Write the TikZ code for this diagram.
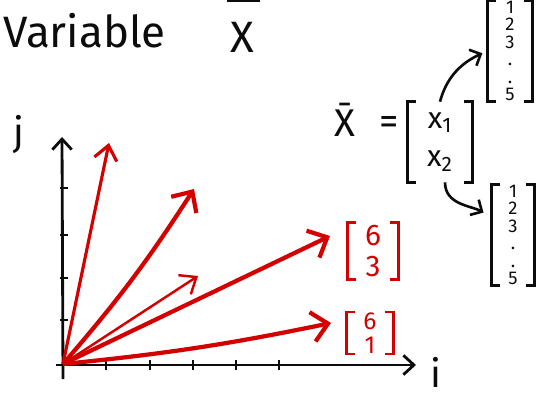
\documentclass[tikz,border=0pt]{standalone}
\usepackage{fontspec}
\setmainfont{Fira Sans}
\usepackage{tikz}
\usetikzlibrary{arrows.meta}
\definecolor{inkred}{RGB}{212,0,0}
\definecolor{inkblack}{RGB}{12,12,12}
\tikzset{
  axisline/.style={-{Straight Barb[length=6pt,width=11pt]},line width=1.6pt,color=inkblack},
  ticker/.style={line width=1.3pt,color=inkblack},
  vecthick/.style={-{Straight Barb[length=9pt,width=17pt]},line width=2.4pt,color=inkred},
  vecmid/.style={-{Straight Barb[length=8pt,width=13pt]},line width=1.8pt,color=inkred},
  vecthin/.style={-{Straight Barb[length=8pt,width=13pt]},line width=1.4pt,color=inkred},
  bendarr/.style={-{Straight Barb[length=5pt,width=10pt]},line width=1.5pt,color=inkblack},
  handtext/.style={inner sep=0pt,text=inkblack,font=\fontsize{25}{28}\selectfont},
  axislabel/.style={inner sep=0pt,text=inkblack,font=\fontsize{22}{24}\selectfont},
  vecbox/.style={inner sep=0pt,align=center},
  blackbrk/.style={line width=1.6pt,color=inkblack},
  redbrk/.style={line width=1.7pt,color=inkred}
}
%% square brackets drawn round a named node
\newcommand{\bracketsof}[2]{%
  \draw[#2] ([xshift=5pt]#1.north west) -- (#1.north west) -- (#1.south west) -- ([xshift=5pt]#1.south west);
  \draw[#2] ([xshift=-5pt]#1.north east) -- (#1.north east) -- (#1.south east) -- ([xshift=-5pt]#1.south east);}

\begin{document}
\begin{tikzpicture}[x=0.02cm,y=0.02cm]
  \useasboundingbox (0,0) rectangle (540,399);

  %% Title
  \node[handtext,anchor=base west] (title) at (3,351) {Variable};
  \node[handtext] (titleX) at (242,362) {X};
  \draw[blackbrk] (227,398.5) -- (260,398.5);

  %% Axes
  \coordinate (xs) at (56,34);
  \coordinate (xe) at (416,34);
  \coordinate (ys) at (63,20);
  \coordinate (ye) at (62,262);
  \coordinate (O) at (63,35);
  \draw[axisline] (xs) -- (xe);
  \draw[axisline] (ys) -- (ye);
  \foreach \tx in {106,150,193,236,279}
    \draw[ticker] (\tx,29) -- (\tx,39);
  \foreach \ty in {79,121,164,211}
    \draw[ticker] (60,\ty) -- (68,\ty);
  \node[axislabel,anchor=base] (ilab) at (436,12) {i};
  \node[axislabel] (jlab) at (19,264) {j};

  %% Vectors
  \coordinate (v1) at (109,256);
  \coordinate (v2) at (194,210);
  \coordinate (v3) at (198,123);
  \coordinate (v4) at (330,163);
  \coordinate (v5) at (331,76);
  \draw[vecmid] (O) -- (v1);
  \draw[vecthick] (O) to[bend right=4] (v2);
  \draw[vecthin] (O) -- (v3);
  \draw[vecthick] (O) -- (v4);
  \draw[vecthick] (O) to[bend right=3] (v5);

  %% Red labels
  \node[vecbox,text=inkred,font=\fontsize{17}{18}\selectfont,minimum width=1cm,minimum height=1.14cm]
    (lab63) at (373,148) {6\\3};
  \node[vecbox,text=inkred,font=\fontsize{14}{14}\selectfont,minimum width=0.92cm,minimum height=0.8cm]
    (lab61) at (370,66) {6\\1};
  \bracketsof{lab63}{redbrk}
  \bracketsof{lab61}{redbrk}

  %% Mean vector
  \node[axislabel,anchor=base] (xbar) at (345,262) {\=X};
  \node[axislabel] (eq) at (389,274) {=};
  \node[vecbox,text=inkblack,font=\fontsize{17}{22}\selectfont,minimum width=1.28cm,minimum height=1.6cm]
    (xm) at (440,257) {x\textsubscript{1}\\x\textsubscript{2}};
  \node[vecbox,text=inkblack,font=\fontsize{10.5}{10}\selectfont,minimum width=0.9cm,minimum height=1.85cm]
    (tv) at (510,348) {1\\2\\3\\.\\.\\5};
  \node[vecbox,text=inkblack,font=\fontsize{10.5}{10}\selectfont,minimum width=0.86cm,minimum height=1.85cm]
    (bv) at (513,164) {1\\2\\3\\.\\.\\5};
  \bracketsof{xm}{blackbrk}
  \bracketsof{tv}{blackbrk}
  \bracketsof{bv}{blackbrk}

  \draw[bendarr,shorten >=3pt] (xm.north) to[out=75,in=205] (tv.west);
  \draw[bendarr,shorten >=5pt] ([xshift=0.1cm]xm.south) to[out=-90,in=150] ([yshift=0.36cm]bv.west);
\end{tikzpicture}
\end{document}
